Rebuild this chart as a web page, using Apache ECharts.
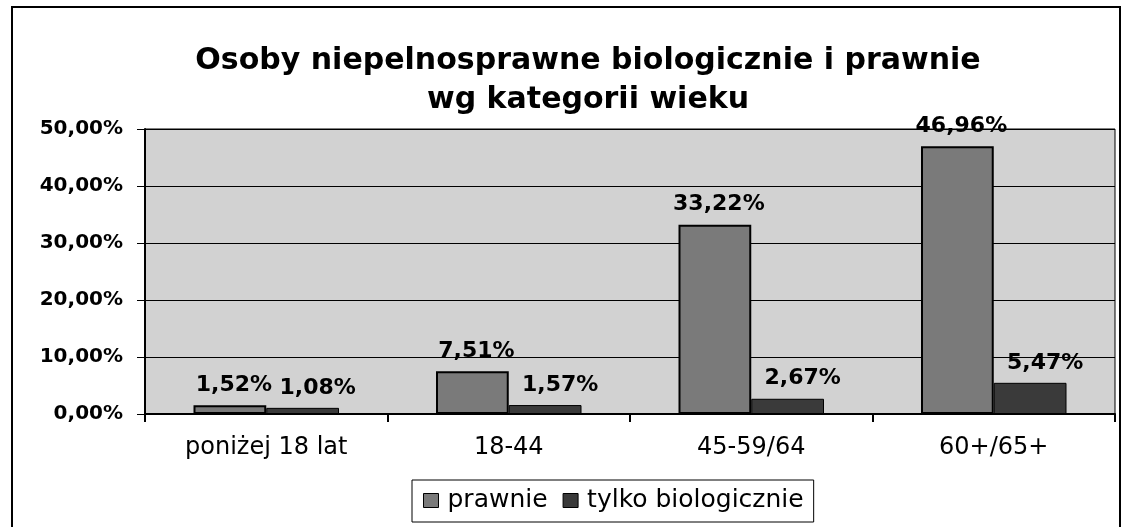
<!DOCTYPE html>
<html>
<head>
<meta charset="utf-8">
<script src="https://cdn.jsdelivr.net/npm/echarts@6/dist/echarts.min.js"></script>
<style>
  html, body { margin: 0; padding: 0; background: #fff; }
  #chart { width: 1123px; height: 527px; }
</style>
</head>
<body>
<div id="chart"></div>
<script>
const categories = ["poniżej 18 lat", "18-44", "45-59/64", "60+/65+"];
const prawnie = [1.52, 7.51, 33.22, 46.96];
const tylkoBiologicznie = [1.08, 1.57, 2.67, 5.47];
const seriesNames = ["prawnie", "tylko biologicznie"];

const FONT = "'DejaVu Sans', Verdana, sans-serif";
const fmt = (v) => v.toFixed(2).replace(".", ",") + "%";

const chart = echarts.init(document.getElementById("chart"));

// etykiety danych, przesunięte lekko w prawo jak w oryginale
const makeLabel = (dx) => ({
  show: true,
  position: "top",
  distance: 9,
  offset: [dx, 0],
  fontFamily: FONT,
  fontWeight: "bold",
  fontSize: 22,
  color: "#000",
  formatter: (p) => fmt(p.value)
});

chart.setOption({
  animation: false,
  backgroundColor: "#fff",
  title: {
    text: "Osoby niepelnosprawne biologicznie i prawnie\nwg kategorii wieku",
    left: 583,
    textAlign: "center",
    top: 37,
    textStyle: {
      fontFamily: FONT,
      fontWeight: "bold",
      fontSize: 30,
      lineHeight: 39,
      color: "#000"
    }
  },
  legend: {
    data: seriesNames,
    left: 412,
    top: 480,
    itemWidth: 15,
    itemHeight: 14,
    itemGap: 15,
    padding: [8, 10, 9, 11],
    borderColor: "#000",
    borderWidth: 1,
    icon: "rect",
    itemStyle: { borderColor: "#000", borderWidth: 1 },
    textStyle: {
      fontFamily: FONT,
      fontSize: 25,
      color: "#000",
      padding: [0, 0, 0, 4]
    }
  },
  grid: {
    left: 145,
    right: 8,
    top: 129,
    bottom: 113,
    show: true,
    backgroundColor: "#d2d2d2",
    borderColor: "#000",
    borderWidth: 1
  },
  xAxis: {
    type: "category",
    data: categories,
    axisLine: { lineStyle: { color: "#000", width: 2 } },
    axisTick: { show: true, length: 8, lineStyle: { color: "#000", width: 2 } },
    axisLabel: {
      margin: 22,
      fontFamily: FONT,
      fontSize: 24,
      color: "#000"
    }
  },
  yAxis: {
    type: "value",
    min: 0,
    max: 50,
    interval: 10,
    axisLine: { show: true, lineStyle: { color: "#000", width: 2 } },
    axisTick: { show: true, length: 8, lineStyle: { color: "#000", width: 1 } },
    splitLine: { lineStyle: { color: "#000", width: 1 } },
    axisLabel: {
      margin: 22,
      fontFamily: FONT,
      fontWeight: "bold",
      fontSize: 20,
      color: "#000",
      formatter: (v) => fmt(v)
    }
  },
  series: [
    {
      name: seriesNames[0],
      type: "bar",
      data: prawnie,
      barGap: "0%",
      barCategoryGap: "40%",
      itemStyle: { color: "#7a7a7a", borderColor: "#000", borderWidth: 2 },
      label: makeLabel(4)
    },
    {
      name: seriesNames[1],
      type: "bar",
      data: tylkoBiologicznie,
      itemStyle: { color: "#3a3a3a", borderColor: "#000", borderWidth: 1 },
      label: makeLabel(15)
    }
  ],
  graphic: [
    {
      type: "rect",
      shape: { x: 12, y: 7, width: 1108, height: 530 },
      style: { fill: null, stroke: "#000", lineWidth: 2 },
      silent: true
    }
  ]
});
</script>
</body>
</html>
